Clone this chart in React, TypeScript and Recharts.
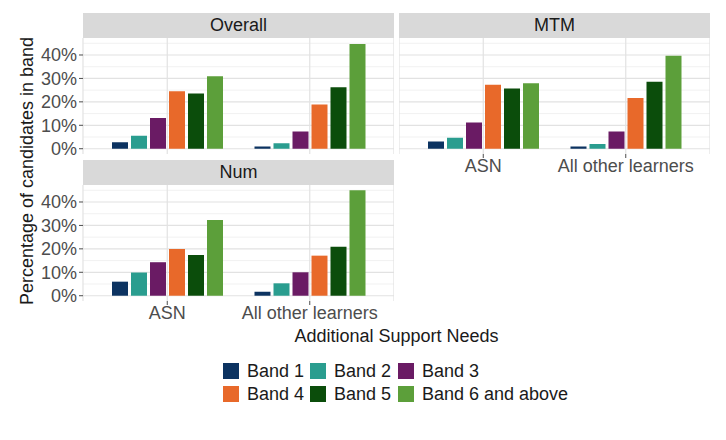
import { Bar, BarChart, CartesianGrid, XAxis, YAxis } from 'recharts'

const groups = ['ASN', 'All other learners']
const bands = ['Band 1', 'Band 2', 'Band 3', 'Band 4', 'Band 5', 'Band 6 and above']
const BAND_COLORS = ['#0c3361', '#2a9d8f', '#6a1b64', '#e8692a', '#0b4d0b', '#5c9f3a']

// percentage per band, [ASN, All other learners]
const overall = [
  [2.8, 1.0],
  [5.5, 2.3],
  [13.1, 7.4],
  [24.5, 18.9],
  [23.6, 26.2],
  [30.9, 44.7],
]
const mtm = [
  [3.1, 1.0],
  [4.7, 2.0],
  [11.2, 7.3],
  [27.3, 21.6],
  [25.7, 28.6],
  [27.9, 39.7],
]
const num = [
  [6.0, 1.7],
  [9.9, 5.3],
  [14.3, 10.0],
  [19.9, 17.1],
  [17.4, 20.9],
  [32.3, 45.0],
]

const majorTicks = [0, 10, 20, 30, 40]
const minorTicks = [5, 15, 25, 35, 45]

const FONT = '"Liberation Sans", Arial, sans-serif'
const PLOT_W = 311
const PLOT_H = 116
const AXIS_W = 75
const XAXIS_H = 30
const SPARE = 10 // room under a panel without x axis so the 0% label is not clipped

function toRows(values: number[][]) {
  return groups.map((g, gi) => {
    const row: Record<string, string | number> = { group: g }
    bands.forEach((b, bi) => {
      row[b] = values[bi][gi]
    })
    return row
  })
}

function Panel({
  title,
  values,
  left,
  top,
  showX,
  showY,
}: {
  title: string
  values: number[][]
  left: number
  top: number
  showX: boolean
  showY: boolean
}) {
  const yw = showY ? AXIS_W : 0
  return (
    <>
      <div
        style={{
          position: 'absolute',
          left: left + yw,
          top,
          width: PLOT_W,
          height: 25,
          background: '#d9d9d9',
          color: '#1a1a1a',
          fontSize: 18,
          lineHeight: '25px',
          textAlign: 'center',
        }}
      >
        {title}
      </div>
      <div style={{ position: 'absolute', left, top: top + 25 }}>
        <BarChart
          width={yw + PLOT_W}
          height={PLOT_H + (showX ? XAXIS_H : SPARE)}
          data={toRows(values)}
          margin={{ top: 0, right: 0, bottom: showX ? 0 : SPARE, left: 0 }}
          barCategoryGap={16}
          barGap={3}
        >
          <CartesianGrid
            horizontalValues={minorTicks}
            vertical={false}
            stroke="#eeeeee"
            strokeWidth={0.8}
          />
          <CartesianGrid
            horizontalValues={majorTicks}
            stroke="#e2e2e2"
            strokeWidth={1.2}
          />
          <XAxis
            dataKey="group"
            hide={!showX}
            height={XAXIS_H}
            padding={{ left: 13, right: 13 }}
            axisLine={false}
            tickSize={4}
            tickMargin={1}
            tickLine={{ stroke: '#4d4d4d' }}
            tick={{ fill: '#4d4d4d', fontSize: 18, fontFamily: FONT }}
            interval={0}
          />
          <YAxis
            hide={!showY}
            width={AXIS_W}
            type="number"
            domain={[-2.25, 47.25]}
            ticks={majorTicks}
            interval={0}
            allowDataOverflow
            axisLine={false}
            tickSize={4}
            tickMargin={2}
            tickLine={{ stroke: '#4d4d4d' }}
            tick={{ fill: '#4d4d4d', fontSize: 18, fontFamily: FONT }}
            tickFormatter={(v: number) => `${v}%`}
          />
          {bands.map((b, i) => (
            <Bar key={b} dataKey={b} fill={BAND_COLORS[i]} isAnimationActive={false} />
          ))}
        </BarChart>
      </div>
    </>
  )
}

const legendCols = [215, 302, 390]
const legendRows = [355, 378]

export default function App() {
  return (
    <div style={{ position: 'relative', width: 710, height: 424, fontFamily: FONT }}>
      <Panel title="Overall" values={overall} left={0} top={5} showX={false} showY />
      <Panel title="MTM" values={mtm} left={391} top={5} showX showY={false} />
      <Panel title="Num" values={num} left={0} top={152} showX showY />

      <div
        style={{
          position: 'absolute',
          left: 19 - 150,
          top: 163 - 11,
          width: 300,
          height: 22,
          lineHeight: '22px',
          fontSize: 18,
          color: '#1a1a1a',
          textAlign: 'center',
          transform: 'rotate(-90deg)',
          whiteSpace: 'nowrap',
        }}
      >
        Percentage of candidates in band
      </div>
      <div
        style={{
          position: 'absolute',
          left: 75,
          top: 317,
          width: 627,
          lineHeight: '22px',
          fontSize: 18,
          color: '#1a1a1a',
          textAlign: 'center',
        }}
      >
        Additional Support Needs
      </div>

      {bands.map((b, i) => (
        <div
          key={b}
          style={{
            position: 'absolute',
            left: legendCols[i % 3],
            top: legendRows[Math.floor(i / 3)],
            display: 'flex',
            alignItems: 'center',
            height: 16,
            whiteSpace: 'nowrap',
          }}
        >
          <span style={{ width: 16, height: 16, background: BAND_COLORS[i], display: 'inline-block' }} />
          <span style={{ marginLeft: 8, fontSize: 18, color: '#1a1a1a' }}>{b}</span>
        </div>
      ))}
    </div>
  )
}
